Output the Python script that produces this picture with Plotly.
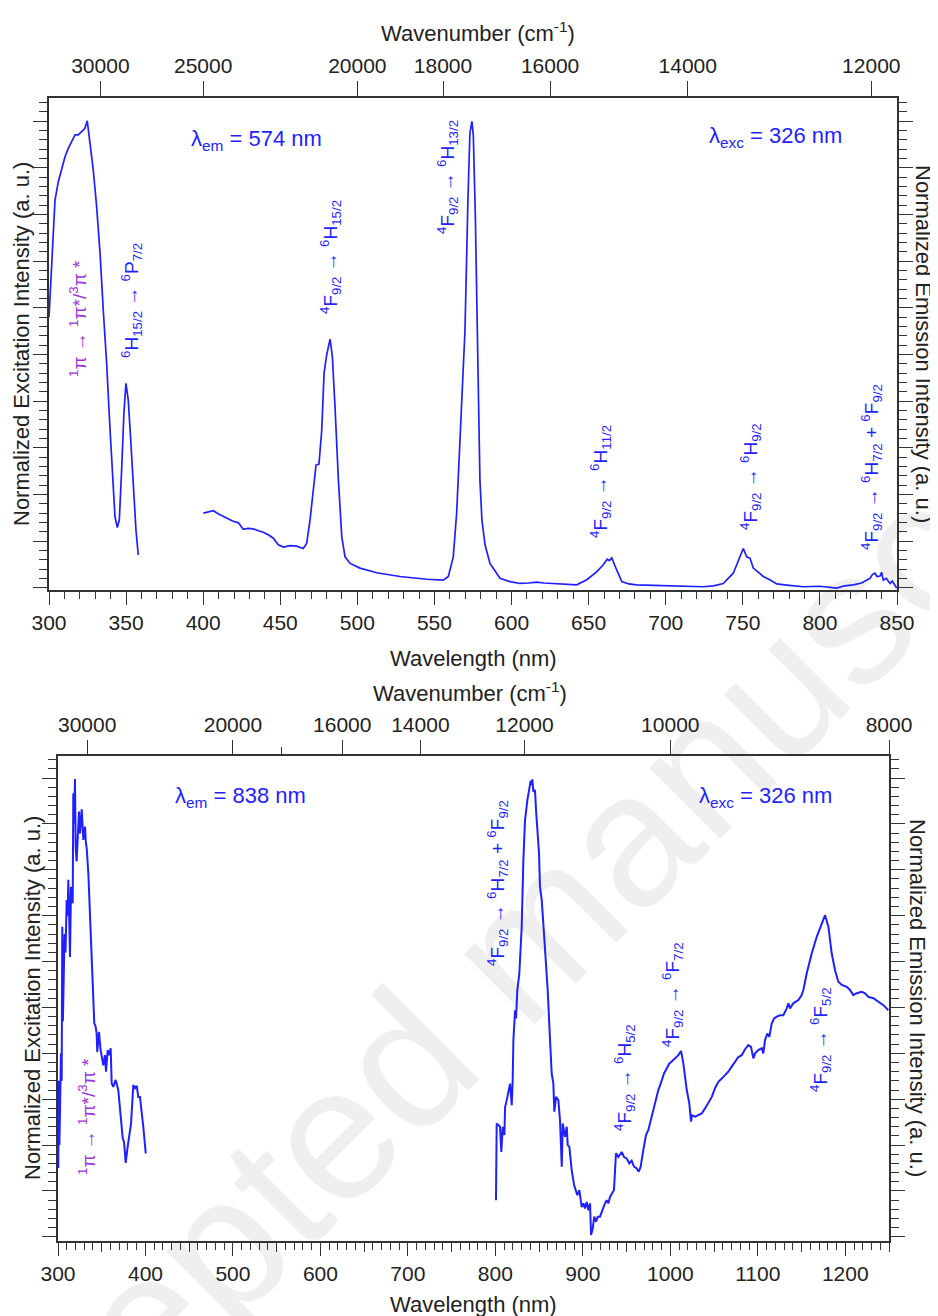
import plotly.graph_objects as go

# ---------------- DATA ----------------
# Top panel: excitation (lambda_em = 574 nm)
ex1_nm = [300.0, 301.8, 302.8, 303.9, 306.0, 308.2, 310.4, 312.5, 314.7, 316.9, 319.0, 321.2, 323.3,
          324.8, 326.6, 328.7, 330.9, 333.1, 335.2, 337.4, 339.6, 341.7, 342.8, 344.3, 345.6, 347.1,
          348.6, 349.9, 351.4, 353.0, 354.7, 356.4, 357.9]
ex1_val = [0.580, 0.688, 0.760, 0.831, 0.870, 0.895, 0.924, 0.942, 0.956, 0.971, 0.971, 0.978, 0.985,
           1.001, 0.954, 0.896, 0.817, 0.718, 0.595, 0.481, 0.338, 0.210, 0.152, 0.129, 0.145, 0.252,
           0.374, 0.438, 0.402, 0.317, 0.210, 0.124, 0.070]

# Top panel: emission (lambda_exc = 326 nm)
em1_nm = [400.1, 403.0, 406.6, 410.0, 415.3, 419.0, 422.8, 426.0, 429.0, 432.5, 436.0, 439.0, 442.5,
          445.5, 448.7, 452.0, 456.3, 460.6, 464.9, 467.1, 469.3, 471.4, 473.2, 475.1, 476.9, 478.4,
          480.1, 482.3, 483.8, 485.5, 487.7, 489.9, 492.0, 495.3, 501.7, 512.5, 527.6, 545.0, 555.7,
          559.0, 562.2, 564.4, 566.5, 568.7, 569.8, 571.7, 573.0, 574.3, 575.2, 576.5, 577.6, 578.3,
          579.5, 580.8, 582.8, 586.0, 592.5, 599.0, 605.5, 611.0, 616.3, 621.0, 627.1, 635.0, 642.3,
          648.8, 655.2, 659.5, 662.1, 663.5, 665.0, 668.2, 671.5, 676.0, 681.2, 692.0, 702.8, 713.0,
          724.4, 731.0, 737.3, 743.8, 748.2, 750.3, 752.5, 754.7, 756.8, 760.0, 763.3, 768.0, 772.0,
          780.0, 789.2, 800.0, 810.9, 816.0, 821.7, 827.0, 832.5, 834.0, 835.7, 837.0, 839.0, 840.0,
          841.1, 843.0, 845.5, 847.0, 849.8]
em1_val = [0.160, 0.162, 0.165, 0.158, 0.149, 0.143, 0.139, 0.125, 0.127, 0.126, 0.122, 0.119, 0.113,
           0.106, 0.092, 0.087, 0.090, 0.089, 0.084, 0.095, 0.145, 0.217, 0.263, 0.265, 0.338, 0.460,
           0.499, 0.533, 0.495, 0.388, 0.231, 0.109, 0.066, 0.052, 0.042, 0.032, 0.024, 0.018, 0.016,
           0.024, 0.066, 0.160, 0.302, 0.481, 0.552, 0.830, 0.975, 1.000, 0.970, 0.800, 0.552, 0.400,
           0.230, 0.145, 0.092, 0.052, 0.020, 0.013, 0.009, 0.010, 0.012, 0.010, 0.009, 0.007, 0.006,
           0.017, 0.034, 0.049, 0.061, 0.058, 0.064, 0.038, 0.013, 0.008, 0.006, 0.005, 0.004, 0.004,
           0.002, 0.004, 0.009, 0.031, 0.066, 0.084, 0.066, 0.063, 0.042, 0.033, 0.024, 0.016, 0.008,
           0.005, 0.002, 0.003, -0.001, 0.004, 0.006, 0.010, 0.020, 0.028, 0.031, 0.024, 0.025, 0.033,
           0.016, 0.020, 0.009, 0.014, -0.001]

# Bottom panel: excitation (lambda_em = 838 nm)
ex2_nm = [300.3, 301.0, 301.6, 302.3, 303.4, 304.2, 304.9, 305.6, 306.5, 307.5, 308.6, 309.9, 311.0,
          311.8, 312.6, 313.7, 314.9, 315.8, 316.8, 317.5, 318.3, 319.4, 320.2, 321.3, 322.6, 324.0,
          325.2, 326.2, 327.1, 328.0, 329.0, 330.0, 330.9, 331.8, 332.8, 334.7, 336.6, 338.5, 340.4,
          341.5, 342.8, 344.2, 344.9, 346.9, 348.5, 349.9, 351.8, 353.7, 354.9, 356.8, 358.7, 360.2,
          361.4, 363.2, 365.9, 368.9, 371.6, 374.0, 375.5, 377.4, 379.6, 382.3, 383.5, 386.1, 388.1,
          390.0, 391.8, 393.7, 395.7, 397.5, 400.3]
ex2_val = [0.150, 0.340, 0.200, 0.260, 0.400, 0.340, 0.676, 0.470, 0.600, 0.660, 0.620, 0.734, 0.700,
           0.778, 0.720, 0.610, 0.763, 0.740, 0.727, 0.967, 0.901, 0.998, 0.850, 0.818, 0.860, 0.927,
           0.879, 0.910, 0.932, 0.900, 0.865, 0.880, 0.894, 0.860, 0.847, 0.792, 0.700, 0.603, 0.538,
           0.465, 0.460, 0.443, 0.403, 0.447, 0.410, 0.392, 0.374, 0.396, 0.360, 0.407, 0.396, 0.411,
           0.334, 0.327, 0.342, 0.320, 0.269, 0.215, 0.207, 0.161, 0.196, 0.233, 0.247, 0.331, 0.324,
           0.329, 0.305, 0.305, 0.262, 0.240, 0.182]

# Bottom panel: emission (lambda_exc = 326 nm)
em2_nm = [800.7, 801.5, 803.4, 805.3, 806.8, 808.4, 810.3, 811.1, 813.0, 814.8, 816.8, 818.7, 819.8,
          820.6, 822.5, 823.6, 825.1, 827.4, 830.1, 832.0, 833.9, 836.6, 838.9, 840.4, 841.5, 842.3,
          843.4, 845.3, 846.5, 848.0, 849.9, 851.0, 853.0, 855.6, 857.9, 859.8, 862.5, 864.4, 866.3,
          867.4, 869.3, 872.0, 873.9, 875.9, 877.0, 879.6, 881.6, 882.7, 884.6, 887.3, 890.0, 892.2,
          893.7, 896.0, 898.7, 900.6, 902.5, 904.4, 906.4, 908.2, 909.4, 911.3, 913.1, 915.1, 917.0,
          919.6, 921.6, 923.4, 925.3, 927.3, 929.1, 931.1, 933.0, 935.6, 936.8, 937.9, 940.6, 944.4,
          947.1, 950.1, 953.2, 955.8, 958.5, 961.6, 963.9, 966.1, 969.1, 972.2, 974.9, 976.8, 979.9,
          982.5, 986.3, 989.0, 992.8, 995.9, 998.9, 1001.6, 1005.4, 1009.2, 1012.3, 1014.9, 1018.8,
          1021.7, 1023.7, 1024.5, 1028.3, 1032.0, 1035.9, 1039.7, 1043.5, 1047.4, 1051.1, 1054.9,
          1058.8, 1062.6, 1066.3, 1070.2, 1074.0, 1077.8, 1081.6, 1085.4, 1089.2, 1092.3, 1094.9,
          1096.9, 1100.6, 1104.5, 1106.3, 1108.3, 1110.9, 1113.2, 1115.9, 1118.6, 1121.7, 1125.4,
          1129.2, 1133.1, 1134.9, 1136.9, 1140.6, 1146.4, 1150.2, 1152.1, 1155.9, 1161.7, 1167.4,
          1173.1, 1176.9, 1180.7, 1184.5, 1188.3, 1192.1, 1196.0, 1201.7, 1205.4, 1209.2, 1213.1,
          1218.8, 1222.6, 1226.4, 1232.1, 1237.8, 1243.6, 1249.3]
em2_val = [0.080, 0.247, 0.244, 0.240, 0.185, 0.240, 0.222, 0.283, 0.298, 0.320, 0.334, 0.287, 0.342,
           0.429, 0.494, 0.476, 0.538, 0.574, 0.676, 0.821, 0.908, 0.952, 0.981, 0.994, 0.985, 0.997,
           0.970, 0.974, 0.930, 0.894, 0.836, 0.763, 0.734, 0.661, 0.603, 0.538, 0.429, 0.356, 0.334,
           0.273, 0.305, 0.298, 0.254, 0.153, 0.247, 0.218, 0.240, 0.200, 0.196, 0.145, 0.113, 0.102,
           0.091, 0.102, 0.065, 0.073, 0.062, 0.076, 0.058, 0.073, 0.004, 0.018, 0.044, 0.033, 0.044,
           0.044, 0.055, 0.065, 0.073, 0.080, 0.073, 0.087, 0.095, 0.102, 0.145, 0.182, 0.174, 0.185,
           0.174, 0.171, 0.160, 0.166, 0.153, 0.149, 0.142, 0.153, 0.189, 0.222, 0.233, 0.247, 0.276,
           0.291, 0.320, 0.334, 0.356, 0.367, 0.378, 0.382, 0.389, 0.396, 0.405, 0.378, 0.320,
           0.291, 0.251, 0.265, 0.262, 0.265, 0.269, 0.280, 0.291, 0.305, 0.324, 0.338,
           0.345, 0.353, 0.360, 0.371, 0.382, 0.392, 0.396, 0.409, 0.418, 0.414, 0.389,
           0.400, 0.407, 0.411, 0.400, 0.429, 0.443, 0.436, 0.465, 0.476, 0.480, 0.483,
           0.483, 0.498, 0.509, 0.498, 0.509, 0.516, 0.527, 0.538, 0.574, 0.618, 0.654,
           0.683, 0.701, 0.676, 0.618, 0.581, 0.556, 0.549, 0.545, 0.538, 0.527, 0.531,
           0.534, 0.531, 0.523, 0.520, 0.512, 0.505, 0.494]

# Wavenumber tick labels (cm-1)
wn_top = [30000, 25000, 20000, 18000, 16000, 14000, 12000]
wn_bottom = [30000, 20000, 16000, 14000, 12000, 10000, 8000]
wn_bottom_minor = [18000]

# ---------------- STYLE ----------------
PAGE_OFF = 8            # the page places the figure 8 px from the top-left corner
W, H = 938 - PAGE_OFF, 1316 - PAGE_OFF
FONT = "Liberation Sans, Arial, sans-serif"
BLUE = "#1f1fff"
PURPLE = "#9933dd"
AX = "#333333"


def px_x(p):
    return (p - PAGE_OFF) / W


def px_y(p):
    return 1 - (p - PAGE_OFF) / H


top_xdom = [px_x(49), px_x(897)]
top_ydom = [px_y(590), px_y(98)]
bot_xdom = [px_x(58), px_x(889)]
bot_ydom = [px_y(1241), px_y(756)]

fig = go.Figure()
# top panel
fig.add_trace(go.Scatter(x=ex1_nm, y=ex1_val, mode="lines", line=dict(color=BLUE, width=1.7),
                         xaxis="x", yaxis="y", showlegend=False, hoverinfo="skip"))
fig.add_trace(go.Scatter(x=em1_nm, y=em1_val, mode="lines", line=dict(color=BLUE, width=1.7),
                         xaxis="x2", yaxis="y2", showlegend=False, hoverinfo="skip"))
# bottom panel
fig.add_trace(go.Scatter(x=ex2_nm, y=ex2_val, mode="lines", line=dict(color=BLUE, width=2.0),
                         xaxis="x3", yaxis="y3", showlegend=False, hoverinfo="skip"))
fig.add_trace(go.Scatter(x=em2_nm, y=em2_val, mode="lines", line=dict(color=BLUE, width=2.0),
                         xaxis="x4", yaxis="y4", showlegend=False, hoverinfo="skip"))
# invisible carrier so the medium-tick axis (x5) is drawn
fig.add_trace(go.Scatter(x=ex2_nm, y=ex2_val, mode="lines", line=dict(width=0), opacity=0,
                         xaxis="x5", yaxis="y3", showlegend=False, hoverinfo="skip"))

tickfont = dict(family=FONT, size=21, color="#222222")
common = dict(showgrid=False, zeroline=False, showline=True, linecolor=AX, linewidth=1.5,
              ticks="outside", tickcolor=AX, tickwidth=1.3, tickfont=tickfont, automargin=False)

yrange_top = [-0.005, 1.05]
yrange_bot = [-0.009, 1.048]
ycommon = dict(common, showticklabels=False, tickmode="linear", tick0=0, dtick=0.1, ticklen=14,
               minor=dict(ticks="outside", dtick=0.02, tick0=0, ticklen=8, tickcolor=AX, tickwidth=1.2))

fig.update_layout(
    template="none",
    width=W, height=H, autosize=False,
    margin=dict(l=0, r=0, t=0, b=0, pad=0, autoexpand=False),
    paper_bgcolor="white", plot_bgcolor="rgba(0,0,0,0)",
    showlegend=False,
    font=dict(family=FONT, color="#222222"),
    xaxis=dict(common, domain=top_xdom, range=[300, 850], anchor="y", tickmode="linear", tick0=300,
               dtick=50, ticklen=13,
               minor=dict(ticks="outside", dtick=10, tick0=300, ticklen=7, tickcolor=AX, tickwidth=1.2)),
    xaxis2=dict(common, overlaying="x", side="top", anchor="y", range=[300, 850], tickmode="array",
                tickvals=[1e7 / w for w in wn_top], ticktext=[str(w) for w in wn_top], ticklen=15),
    yaxis=dict(ycommon, domain=top_ydom, range=yrange_top, anchor="x"),
    yaxis2=dict(ycommon, overlaying="y", side="right", anchor="x", range=yrange_top),
    xaxis3=dict(common, domain=bot_xdom, range=[300, 1250], anchor="y3", tickmode="linear", tick0=300,
                dtick=100, ticklen=13,
                minor=dict(ticks="outside", dtick=10, tick0=300, ticklen=7, tickcolor=AX, tickwidth=1.2)),
    xaxis4=dict(common, overlaying="x3", side="top", anchor="y3", range=[300, 1250], tickmode="array",
                tickvals=[1e7 / w for w in wn_bottom], ticktext=[str(w) for w in wn_bottom], ticklen=14,
                minor=dict(ticks="outside", tickmode="array", tickvals=[1e7 / w for w in wn_bottom_minor],
                           ticklen=7, tickcolor=AX, tickwidth=1.3)),
    xaxis5=dict(overlaying="x3", side="bottom", anchor="y3", range=[300, 1250], showgrid=False,
                zeroline=False, showline=False, ticks="outside", tickmode="linear", tick0=350, dtick=100,
                ticklen=10, tickcolor=AX, tickwidth=1.3, showticklabels=False, automargin=False),
    yaxis3=dict(ycommon, domain=bot_ydom, range=yrange_bot, anchor="x3"),
    yaxis4=dict(ycommon, overlaying="y3", side="right", anchor="x3", range=yrange_bot),
)

# faint diagonal watermark behind the data
wm_x, wm_y = px_x(496), px_y(945)
fig.add_shape(type="rect", xref="paper", yref="paper", x0=wm_x - 0.005, x1=wm_x + 0.005,
              y0=wm_y - 0.005, y1=wm_y + 0.005, line=dict(width=0), fillcolor="rgba(0,0,0,0)",
              layer="below",
              label=dict(text="Accepted manuscript", textangle=-45, textposition="middle center",
                         font=dict(family=FONT, size=189, color="#efefef")))

ann = []


def txt(x, y, text, size=22, color="#222222", angle=0):
    ann.append(dict(x=px_x(x), y=px_y(y), xref="paper", yref="paper", text=text, showarrow=False,
                    xanchor="center", yanchor="middle", textangle=angle,
                    font=dict(family=FONT, size=size, color=color)))


# axis titles
txt(478, 32, "Wavenumber (cm<sup>-1</sup>)")
txt(473, 658, "Wavelength (nm)")
txt(21, 344, "Normalized Excitation Intensity (a. u.)", angle=-90)
txt(924, 344, "Normalized Emission Intensity (a. u.)", angle=90)
txt(470, 692, "Wavenumber (cm<sup>-1</sup>)")
txt(473, 1304, "Wavelength (nm)")
txt(32, 998, "Normalized Excitation Intensity (a. u.)", angle=-90)
txt(918, 998, "Normalized Emission Intensity (a. u.)", angle=90)

# lambda labels
txt(256, 140, "λ<sub>em</sub> = 574 nm", size=22, color=BLUE)
txt(775, 137, "λ<sub>exc</sub> = 326 nm", size=22, color=BLUE)
txt(240, 797, "λ<sub>em</sub> = 838 nm", size=22, color=BLUE)
txt(765, 797, "λ<sub>exc</sub> = 326 nm", size=22, color=BLUE)

LS = 19
pipi = "<sup>1</sup>π → <sup>1</sup>π*/<sup>3</sup>π *"
txt(78, 319, pipi, size=LS, color=PURPLE, angle=-90)
txt(131, 301, "<sup>6</sup>H<sub>15/2</sub> → <sup>6</sup>P<sub>7/2</sub>", size=LS, color=BLUE, angle=-90)
txt(330, 257, "<sup>4</sup>F<sub>9/2</sub> → <sup>6</sup>H<sub>15/2</sub>", size=LS, color=BLUE, angle=-90)
txt(448, 177, "<sup>4</sup>F<sub>9/2</sub> → <sup>6</sup>H<sub>13/2</sub>", size=LS, color=BLUE, angle=-90)
txt(601, 482, "<sup>4</sup>F<sub>9/2</sub> → <sup>6</sup>H<sub>11/2</sub>", size=LS, color=BLUE, angle=-90)
txt(750, 477, "<sup>4</sup>F<sub>9/2</sub> → <sup>6</sup>H<sub>9/2</sub>", size=LS, color=BLUE, angle=-90)
txt(871, 467, "<sup>4</sup>F<sub>9/2</sub> → <sup>6</sup>H<sub>7/2</sub> + <sup>6</sup>F<sub>9/2</sub>",
    size=LS, color=BLUE, angle=-90)

txt(87, 1117, pipi, size=LS, color=PURPLE, angle=-90)
txt(497, 883, "<sup>4</sup>F<sub>9/2</sub> → <sup>6</sup>H<sub>7/2</sub> + <sup>6</sup>F<sub>9/2</sub>",
    size=LS, color=BLUE, angle=-90)
txt(624, 1078, "<sup>4</sup>F<sub>9/2</sub> → <sup>6</sup>H<sub>5/2</sub>", size=LS, color=BLUE, angle=-90)
txt(672, 995, "<sup>4</sup>F<sub>9/2</sub> → <sup>6</sup>F<sub>7/2</sub>", size=LS, color=BLUE, angle=-90)
txt(820, 1040, "<sup>4</sup>F<sub>9/2</sub> → <sup>6</sup>F<sub>5/2</sub>", size=LS, color=BLUE, angle=-90)

fig.update_layout(annotations=ann)
fig.write_html("out.html")
